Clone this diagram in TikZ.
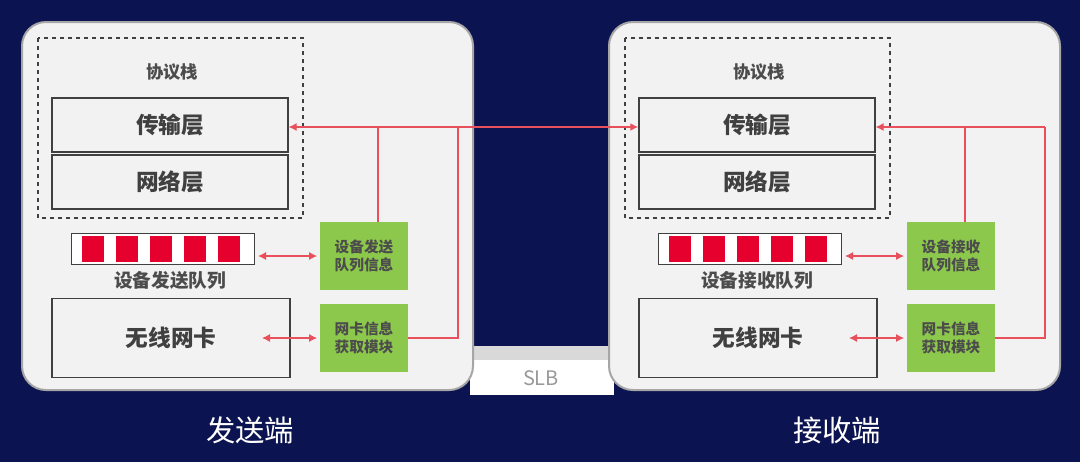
\documentclass[tikz,border=0pt]{standalone}
\usepackage{fontspec}
\setmainfont{Noto Sans CJK SC}
\usetikzlibrary{arrows.meta}
\definecolor{navy}{HTML}{0B1350}
\definecolor{panel}{HTML}{F2F2F2}
\definecolor{grn}{HTML}{8CC84B}
\definecolor{rd}{HTML}{E6002D}
\definecolor{ln}{HTML}{E8505B}
\tikzset{
 panelbox/.style={draw=gray!70,line width=1.5pt,fill=panel,rounded corners=18pt},
 layer/.style={draw=black!75,line width=1pt,fill=panel,font=\fontsize{17}{18}\selectfont\bfseries,text=black!75},
 gbox/.style={fill=grn,font=\fontsize{11}{13}\selectfont\bfseries,text=black!70,align=center},
 link/.style={draw=ln,line width=0.8pt},
 arr/.style={link,-{Latex[length=6pt,width=6pt]},draw=ln},
 darr/.style={link,{Latex[length=6pt,width=6pt]}-{Latex[length=6pt,width=6pt]}},
}
\begin{document}
\begin{tikzpicture}[x=0.75pt,y=-0.75pt]
\fill[navy] (0,0) rectangle (1080,462);
\useasboundingbox (0,0) rectangle (1080,462);
% SLB
\fill[gray!30] (470,346) rectangle (614,360);
\fill[white] (470,360) rectangle (614,395);
\node[text=gray!80,font=\fontsize{15}{16}\selectfont] (slb) at (541,378) {SLB};
\foreach \o/\side/\qlab/\glab/\name in {0/L/设备发送队列/设备发送\\队列信息/发送端, 587/R/设备接收队列/设备接收\\队列信息/接收端}{
\begin{scope}[xshift=\o*0.75pt]
\draw[panelbox] (22,22) rectangle (473,390);
\draw[black!75,dashed,line width=1pt] (38,38) rectangle (303,218);
\node[font=\fontsize{13}{14}\selectfont\bfseries,text=black!70] (stk\side) at (172,72) {协议栈};
\node[layer,minimum width=236*0.75pt,minimum height=54*0.75pt] (tr\side) at (170,125) {传输层};
\node[layer,minimum width=236*0.75pt,minimum height=54*0.75pt] (nw\side) at (170,182) {网络层};
\node[draw=black!75,line width=0.8pt,fill=white,minimum width=183*0.75pt,minimum height=31*0.75pt] (q\side) at (163,249) {};
\foreach \i in {0,...,4}{\fill[rd] (82+\i*34,236) rectangle (104+\i*34,262);}
\node[font=\fontsize{14}{15}\selectfont\bfseries,text=black!70] (ql\side) at (170,280) {\qlab};
\node[layer,minimum width=238*0.75pt,minimum height=79*0.75pt] (nic\side) at (171,338) {无线网卡};
\node[gbox,minimum width=88*0.75pt,minimum height=68*0.75pt] (g1\side) at (364,256) {\glab};
\node[gbox,minimum width=88*0.75pt,minimum height=68*0.75pt] (g2\side) at (364,338) {网卡信息\\获取模块};
\coordinate (t\side) at (458,127);
\draw[link] (g1\side.north) ++(14,0) -- (378,127);
\draw[link] (g2\side.east) -| (t\side);
\draw[arr] (t\side) -- (tr\side.east|-t\side);
\draw[darr] (q\side.east|-g1\side.west) ++(3,0) -- ([xshift=-2pt]g1\side.west);
\draw[darr] (262,338) coordinate (nc\side) -- ([xshift=-2pt]g2\side.west);
\node[text=white,font=\fontsize{22}{24}\selectfont] (lab\side) at (250,430) {\name};
\end{scope}}
\draw[arr,line width=1.2pt] (tL) -- (trR.west|-tL);
\end{tikzpicture}
\end{document}
